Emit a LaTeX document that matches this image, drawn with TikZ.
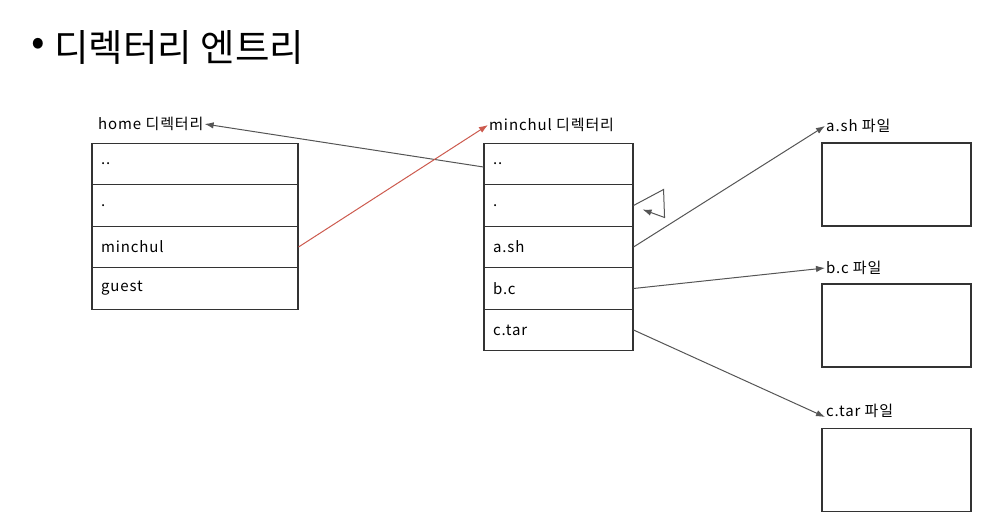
\documentclass[tikz,border=0pt]{standalone}
\usepackage{fontspec}
\setmainfont{Noto Sans CJK KR}
\newfontfamily\handfont[LetterSpace=6]{Noto Sans CJK KR}
\usepackage{tikz}
\usetikzlibrary{arrows.meta}
\usetikzlibrary{positioning}
\definecolor{linegray}{HTML}{333333}
\definecolor{arrowgray}{HTML}{555555}
\definecolor{linkred}{HTML}{CC5A4E}
\tikzset{
entry/.style = { rectangle, draw = linegray, line width = 1.1pt, fill = white, minimum height = 41.5pt, inner xsep = 9pt, align = left, font = \handfont\fontsize{15}{17}\selectfont },
home entry/.style = { entry, text width = 188pt },
dir entry/.style = { entry, text width = 131pt },
file box/.style = { rectangle, draw = linegray, line width = 1.1pt, fill = white, minimum width = 149pt, minimum height = 83pt },
caption/.style = { anchor = west, inner sep = 1pt, font = \handfont\fontsize{15}{17}\selectfont },
link/.style = { draw = arrowgray, line width = 1pt, -{Latex[length = 9pt, width = 6.5pt]} },
}

\begin{document}
\begin{tikzpicture}[x = 1pt, y = -1pt]
      \useasboundingbox (0, 0) rectangle (986, 530);
      % title
      \node (bullet) at (38, 47) {\fontsize{40}{42}\selectfont •};
      \node[anchor = west, inner sep = 0pt] (title) at (54, 47) {\fontsize{37.5}{40}\selectfont 디렉터리 엔트리};

      % home directory
      \node[caption] (home label) at (97, 124) {home 디렉터리};
      \node[home entry] (home 1) at (195, 164) {..};
      \node[home entry] (home 2) at (195, 205.5) {.};
      \node[home entry] (home 3) at (195, 247) {minchul};
      \node[home entry] (home 4) at (195, 288.5) {guest};

      % minchul directory
      \node[caption] (minchul label) at (488, 125) {minchul 디렉터리};
      \node[dir entry] (minchul 1) at (558.5, 164) {..};
      \node[dir entry] (minchul 2) at (558.5, 205.5) {.};
      \node[dir entry] (minchul 3) at (558.5, 247) {a.sh};
      \node[dir entry] (minchul 4) at (558.5, 288.5) {b.c};
      \node[dir entry] (minchul 5) at (558.5, 330) {c.tar};

      % files
      \node[caption] (a label) at (825, 126) {a.sh 파일};
      \node[file box] (a file) at (896.5, 184.5) {};
      \node[caption] (b label) at (825, 268) {b.c 파일};
      \node[file box] (b file) at (896.5, 325.5) {};
      \node[caption] (c label) at (825, 411) {c.tar 파일};
      \node[file box] (c file) at (896.5, 470) {};

      % links
      \draw[link] ([yshift = -3]minchul 1.west) -- (home label.east);
      \draw[link, draw = linkred] (home 3.east) -- (minchul label.west);
      \coordinate (loop top) at ([shift = {(30, -16)}]minchul 2.east);
      \coordinate (loop bottom) at ([shift = {(31, 12)}]minchul 2.east);
      \coordinate (loop end) at ([shift = {(9, 4)}]minchul 2.east);
      \draw[link] (minchul 2.east) -- (loop top) -- (loop bottom) -- (loop end);
      \draw[link] (minchul 3.east) -- (a label.west);
      \draw[link] (minchul 4.east) -- (b label.west);
      \draw[link] (minchul 5.east) -- ([yshift = -6]c label.west);
\end{tikzpicture}
\end{document}
